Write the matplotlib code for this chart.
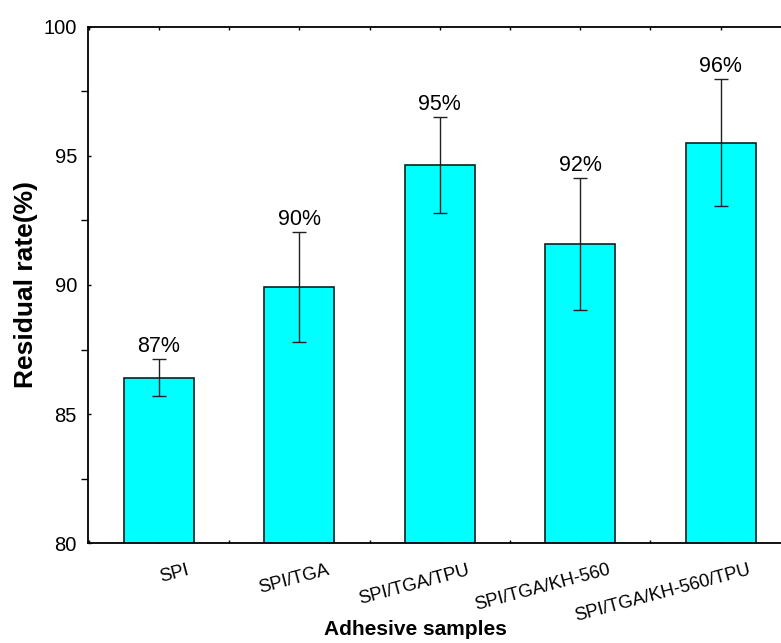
import numpy as np
import matplotlib
matplotlib.use('Agg')
import matplotlib.pyplot as plt
from matplotlib.ticker import MultipleLocator
from matplotlib.transforms import ScaledTranslation

plt.rcParams['font.family'] = ['Liberation Sans', 'DejaVu Sans']

samples = ['SPI', 'SPI/TGA', 'SPI/TGA/TPU', 'SPI/TGA/KH-560', 'SPI/TGA/KH-560/TPU']
residual = [86.41, 89.92, 94.65, 91.59, 95.51]
errors = [0.72, 2.12, 1.86, 2.55, 2.45]
labels = ['87%', '90%', '95%', '92%', '96%']

fig = plt.figure(figsize=(7.81, 6.43), dpi=100)
ax = fig.add_axes([0.1127, 0.155, 0.8873, 0.8037])

x = np.arange(len(samples))
ax.bar(x, residual, width=0.5, color='#00ffff', edgecolor='#102020', linewidth=1.2,
       zorder=2)
ax.errorbar(x, residual, yerr=errors, fmt='none', ecolor='#202020', elinewidth=1.0,
            capsize=5, capthick=1.0, zorder=3)

for xi, v, e, lab in zip(x, residual, errors, labels):
    ax.annotate(lab, (xi, v + e), xytext=(0, 1.5), textcoords='offset points',
                ha='center', va='bottom', fontsize=15.5)

ax.set_ylim(80, 100)
ax.set_xlim(-0.505, 4.43)
ax.yaxis.set_major_locator(MultipleLocator(5))
ax.yaxis.set_minor_locator(MultipleLocator(2.5))
ax.xaxis.set_minor_locator(MultipleLocator(0.5))
ax.set_xticks(x)
ax.set_xticklabels([])

# rotated sample names, anchored at their right end
offset = ScaledTranslation(0.30, -0.265, fig.dpi_scale_trans)
for xi, name in zip(x, samples):
    ax.text(xi, 0, name, transform=ax.get_xaxis_transform() + offset,
            rotation=15, ha='right', va='center', rotation_mode='anchor',
            fontsize=13.2, clip_on=False)

ax.tick_params(axis='x', which='both', direction='in', length=2, width=1,
               top=True)
ax.tick_params(axis='y', which='major', direction='in', length=2, width=1,
               labelsize=14.5, pad=8)
ax.tick_params(axis='y', which='minor', direction='out', length=5, width=1)

for s in ['left', 'bottom', 'top']:
    ax.spines[s].set_linewidth(1.3)
ax.spines['right'].set_visible(False)

ax.set_xlabel('Adhesive samples', fontsize=15, fontweight='bold')
ax.set_ylabel('Residual rate(%)', fontsize=19, fontweight='bold')
ax.xaxis.set_label_coords(0.472, -0.148)
ax.yaxis.set_label_coords(-0.072, 0.5)

fig.savefig('out.png', dpi=100)
